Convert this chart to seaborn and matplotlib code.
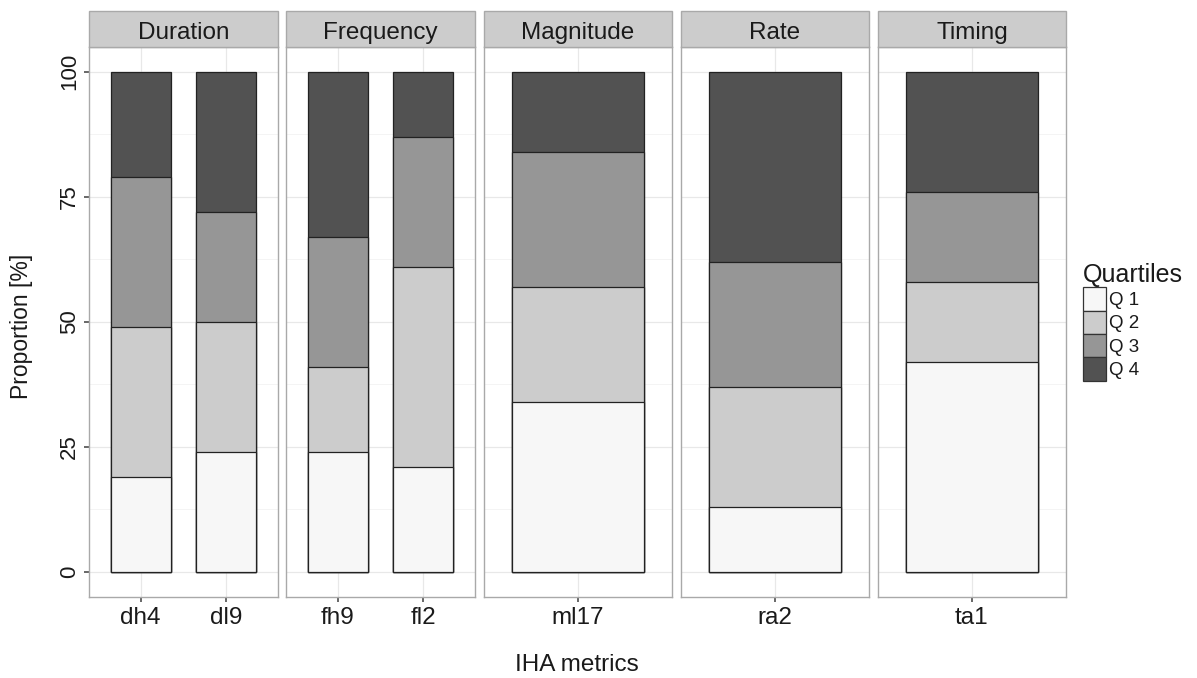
import matplotlib
matplotlib.use("Agg")
import matplotlib.pyplot as plt
from matplotlib.patches import Patch, Rectangle
import seaborn as sns
import pandas as pd
import numpy as np

# ---- data ----
groups = ["Duration", "Frequency", "Magnitude", "Rate", "Timing"]
metrics = ["dh4", "dl9", "fh9", "fl2", "ml17", "ra2", "ta1"]
metric_group = ["Duration", "Duration", "Frequency", "Frequency", "Magnitude", "Rate", "Timing"]
q1 = [19, 24, 24, 21, 34, 13, 42]
q2 = [30, 26, 17, 40, 23, 24, 16]
q3 = [30, 22, 26, 26, 27, 25, 18]
q4 = [21, 28, 33, 13, 16, 38, 24]
quartile_labels = ["Q 1", "Q 2", "Q 3", "Q 4"]
quartile_colors = ["#F7F7F7", "#CCCCCC", "#969696", "#525252"]
y_ticks = [0, 25, 50, 75, 100]

sns.set_theme(style="whitegrid")
plt.rcParams["font.family"] = ["Liberation Sans", "DejaVu Sans"]

df = pd.DataFrame({"metric": metrics, "group": metric_group,
                   "Q 1": q1, "Q 2": q2, "Q 3": q3, "Q 4": q4})
# cumulative tops for stacking
cum = df[quartile_labels].cumsum(axis=1)

W, H = 1197, 678
fig = plt.figure(figsize=(W / 100, H / 100), dpi=100)

panel_left = [89.3, 286.4, 483.5, 680.6, 877.7]
panel_w = 188.4
panel_top, panel_bot = 46.7, 596.7
strip_top = 11.3
border = "#A9A9A9"
txt = "#1A1A1A"

for i, g in enumerate(groups):
    ax = fig.add_axes([panel_left[i] / W, 1 - panel_bot / H,
                       panel_w / W, (panel_bot - panel_top) / H])
    sub = df[df["group"] == g]
    subcum = cum[df["group"] == g]
    # draw from top quartile down so each lower segment overlays
    for q, col in zip(reversed(quartile_labels), reversed(quartile_colors)):
        sns.barplot(x=sub["metric"].tolist(), y=subcum[q].tolist(), color=col,
                    width=0.7, edgecolor="#222222", linewidth=0.9,
                    saturation=1, ax=ax, zorder=3)
    n = len(sub)
    if n == 1:
        ax.set_xlim(-0.5, 0.5)
    else:
        ax.set_xlim(-0.6, n - 1 + 0.6)
    ax.set_ylim(-5, 105)
    ax.set_yticks(y_ticks)
    ax.set_yticks([12.5, 37.5, 62.5, 87.5], minor=True)
    ax.grid(True, which="major", axis="both", color="#E8E8E8", linewidth=0.9, zorder=0)
    ax.grid(True, which="minor", axis="y", color="#F4F4F4", linewidth=0.7, zorder=0)
    ax.set_axisbelow(True)
    for s in ax.spines.values():
        s.set_color(border)
        s.set_linewidth(1.0)
        s.set_visible(True)
    ax.set_xlabel("")
    ax.set_ylabel("")
    ax.tick_params(axis="x", which="major", length=3.5, color="#555555",
                   labelsize=17.5, labelcolor=txt, pad=4, bottom=True)
    ax.tick_params(axis="y", which="minor", length=0, left=False)
    if i == 0:
        ax.tick_params(axis="y", which="major", length=3.5, color="#555555",
                       labelsize=16, labelcolor=txt, pad=3, left=True)
        for lab in ax.get_yticklabels():
            lab.set_rotation(90)
            lab.set_va("center")
    else:
        ax.tick_params(axis="y", which="major", length=0, labelleft=False, left=False)
    # strip
    fig.patches.append(Rectangle((panel_left[i] / W, 1 - panel_top / H),
                                 panel_w / W, (panel_top - strip_top) / H,
                                 transform=fig.transFigure, facecolor="#CCCCCC",
                                 edgecolor=border, linewidth=1.0))
    fig.text((panel_left[i] + panel_w / 2) / W, 1 - 30.5 / H,
             g, ha="center", va="center_baseline", fontsize=17.5, color=txt)

fig.text(577 / W, 1 - 665 / H, "IHA metrics", ha="center", va="center",
         fontsize=17.5, color=txt)
fig.text(22 / W, 1 - 326 / H, "Proportion [%]", ha="center", va="center",
         rotation=90, fontsize=16.5, color=txt)

handles = [Patch(facecolor=c, edgecolor="#333333", linewidth=0.9) for c in quartile_colors]
leg = fig.legend(handles, quartile_labels, title="Quartiles", loc="center left",
                 bbox_to_anchor=(1083 / W, 1 - 322 / H), frameon=False,
                 fontsize=13.5, title_fontsize=18, handlelength=1.23,
                 handleheight=1.55, labelspacing=0.0, handletextpad=0.15,
                 borderpad=0, borderaxespad=0, alignment="left")
for t in leg.get_texts():
    t.set_color(txt)
leg.get_title().set_color(txt)

fig.savefig("out.png", dpi=100, facecolor="white")
